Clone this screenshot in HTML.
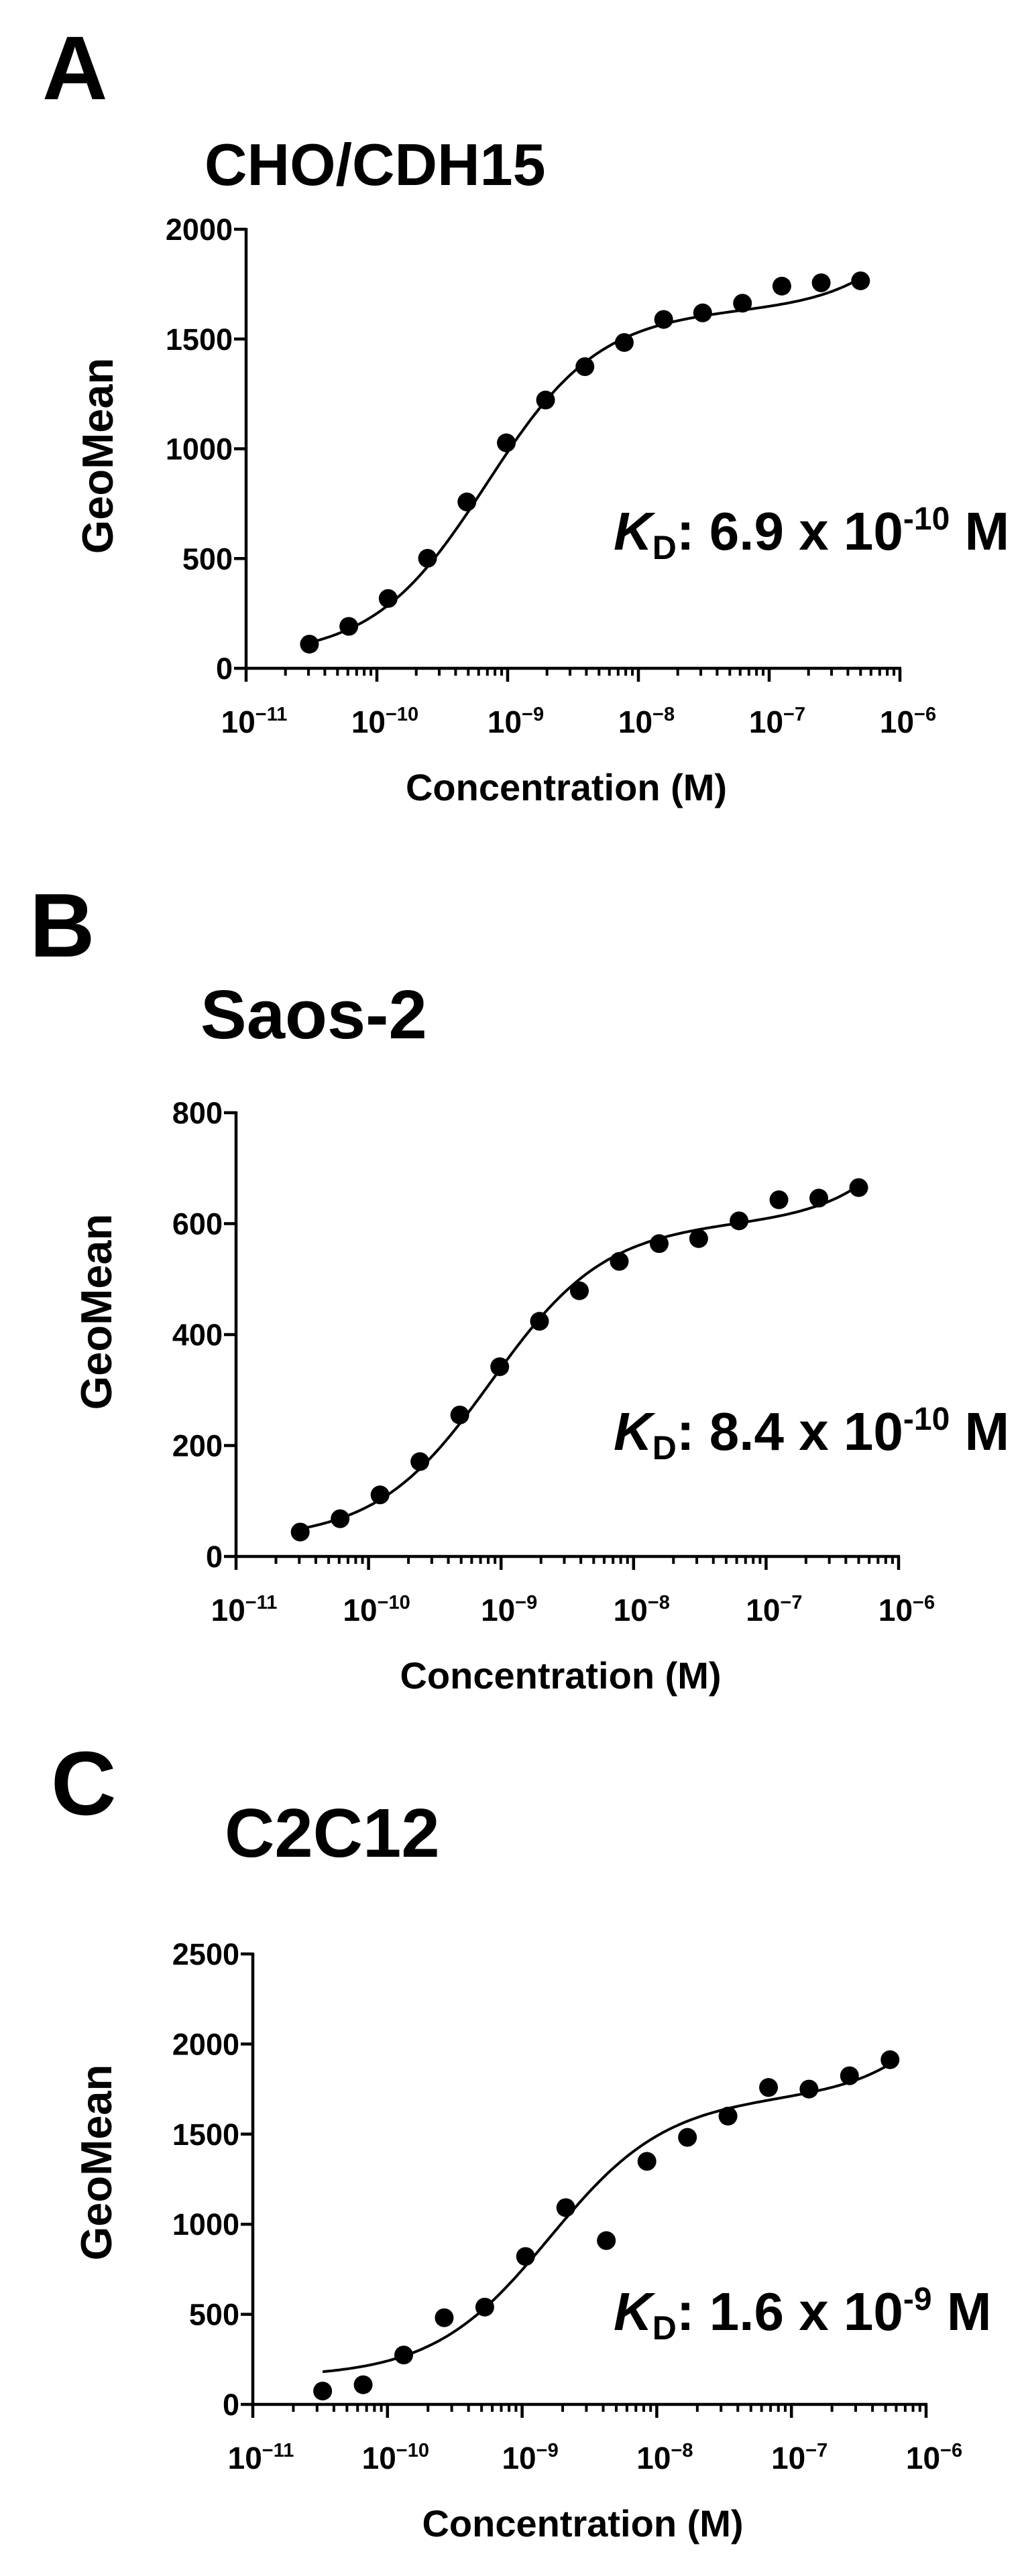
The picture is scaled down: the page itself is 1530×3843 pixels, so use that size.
<!DOCTYPE html>
<html><head><meta charset="utf-8">
<style>
html,body{margin:0;padding:0;background:#fff;}
svg{display:block;font-family:"Liberation Sans",Arial,sans-serif;font-weight:bold;}
</style></head>
<body>
<svg id="fig" width="1530" height="3843" viewBox="0 0 1530 3843" xmlns="http://www.w3.org/2000/svg"></svg>
<script>
// ---- Panel A data ----
const concA = [3.05e-11,6.1e-11,1.22e-10,2.44e-10,4.88e-10,9.77e-10,1.95e-9,3.9e-9,7.8e-9,1.56e-8,3.1e-8,6.25e-8,1.25e-7,2.5e-7,5e-7];
const valuesA = [110,191,318,501,758,1027,1222,1374,1484,1589,1619,1663,1741,1756,1765];
const yTicksA = [0,500,1000,1500,2000];
const fitA = [50,1580,6.9e-10,3.0e8];
// ---- Panel B data ----
const concB = [3.05e-11,6.1e-11,1.22e-10,2.44e-10,4.88e-10,9.77e-10,1.95e-9,3.9e-9,7.8e-9,1.56e-8,3.1e-8,6.25e-8,1.25e-7,2.5e-7,5e-7];
const valuesB = [44,68,111,171,255,342,424,479,532,564,573,605,643,646,665];
const yTicksB = [0,200,400,600,800];
const fitB = [30,570,8.4e-10,1.4e8];
// ---- Panel C data ----
const concC = [3.3e-11,6.6e-11,1.32e-10,2.64e-10,5.28e-10,1.06e-9,2.11e-9,4.22e-9,8.45e-9,1.69e-8,3.38e-8,6.76e-8,1.35e-7,2.7e-7,5.4e-7];
const valuesC = [74,109,274,481,540,821,1092,909,1349,1482,1600,1759,1750,1824,1913];
const yTicksC = [0,500,1000,1500,2000,2500];
const fitC = [150,1550,1.6e-9,3.6e8];
const xDecades = [-11,-10,-9,-8,-7,-6];

const NS = "http://www.w3.org/2000/svg";
const svg = document.getElementById('fig');
function mk(tag, attrs, parent){
  const e = document.createElementNS(NS, tag);
  for (const k in attrs) e.setAttribute(k, attrs[k]);
  (parent||svg).appendChild(e);
  return e;
}

function panel(cfg){
  const g = mk('g', {});
  
  
  const x0 = cfg.ax, x1 = cfg.ax1, y0 = cfg.ay0, y1 = cfg.ay1;
  const ymax = cfg.yt[cfg.yt.length-1];
  const X = c => x0 + (Math.log10(c) + 11) / 5 * (x1 - x0);
  const Y = v => y0 - v / ymax * (y0 - y1);

  const pl = mk('text', {x: cfg.lx, y: cfg.lby, 'font-size': 135}, g);
  pl.textContent = cfg.letter;
  
  

  const t = mk('text', {x: cfg.tx, y: cfg.tby, 'font-size': cfg.tfs}, g);
  t.textContent = cfg.title;
  
  

  const ya = mk('line', {x1: x0, y1: y1 - 2, x2: x0, y2: y0 + 2, stroke: '#000', 'stroke-width': 4.5}, g);
  
  
  const xa = mk('line', {x1: x0 - 2, y1: y0, x2: x1 + 2, y2: y0, stroke: '#000', 'stroke-width': 4.5}, g);
  
  

  cfg.yt.forEach(v => {
    const yy = Y(v);
    const tk = mk('line', {x1: x0 - 18, y1: yy, x2: x0, y2: yy, stroke: '#000', 'stroke-width': 4.5}, g);
    
    
    const lb = mk('text', {x: x0 - 20, y: yy + 16, 'font-size': 45, 'text-anchor': 'end'}, g);
    lb.textContent = v;
    
    
  });

  xDecades.forEach((d, i) => {
    const xx = X(Math.pow(10, d));
    const tk = mk('line', {x1: xx, y1: y0, x2: xx, y2: y0 + 20, stroke: '#000', 'stroke-width': 4.5}, g);
    
    
    const lb = mk('text', {x: xx + 12, y: y0 + 96, 'font-size': 46, 'text-anchor': 'middle'}, g);
    
    
    const b = mk('tspan', {}, lb); b.textContent = '10';
    const s = mk('tspan', {'font-size': 29, dy: -18}, lb); s.textContent = '\u2212' + (-d);
    if (i < xDecades.length - 1) {
      for (let m = 2; m <= 9; m++) {
        const mx = X(m * Math.pow(10, d));
        const mt = mk('line', {x1: mx, y1: y0, x2: mx, y2: y0 + 11, stroke: '#000', 'stroke-width': 4}, g);
        
        
      }
    }
  });

  const xt = mk('text', {x: (x0 + x1) / 2 - 10, y: y0 + 197, 'font-size': 56, 'text-anchor': 'middle'}, g);
  xt.textContent = 'Concentration (M)';
  
  
  const yt = mk('text', {x: 0, y: 0, 'font-size': 65, 'text-anchor': 'middle', transform: 'translate(' + (cfg.ytx) + ',' + cfg.ytc + ') rotate(-90)'}, g);
  yt.textContent = 'GeoMean';
  
  

  const f = cfg.fit;
  const c0 = cfg.conc[0], c1 = cfg.conc[cfg.conc.length - 1];
  let d = '';
  const N = 200;
  for (let i = 0; i <= N; i++) {
    const lc = Math.log10(c0) + (Math.log10(c1) - Math.log10(c0)) * i / N;
    const c = Math.pow(10, lc);
    const v = f[0] + f[1] * c / (f[2] + c) + f[3] * c;
    d += (i ? 'L' : 'M') + X(c).toFixed(1) + ',' + Y(v).toFixed(1);
  }
  const cv = mk('path', {d: d, fill: 'none', stroke: '#000', 'stroke-width': 4}, g);
  
  

  cfg.conc.forEach((c, i) => {
    const p = mk('circle', {cx: X(c), cy: Y(cfg.vals[i]), r: 14, fill: '#000'}, g);
    
    
  });

  const kd = mk('text', {x: 915, y: cfg.kdy, 'font-size': 80}, g);
  
  
  const k = mk('tspan', {'font-style': 'italic'}, kd); k.textContent = 'K';
  const ds = mk('tspan', {'font-size': 50, dy: 14}, kd); ds.textContent = 'D';
  const r1 = mk('tspan', {dy: -14}, kd); r1.textContent = ': ' + cfg.kdm + ' x 10';
  const sp = mk('tspan', {'font-size': 48, dy: -30}, kd); sp.textContent = cfg.kde;
  const r2 = mk('tspan', {dy: 30}, kd); r2.textContent = ' M';
}

panel({id:'a', letter:'A', title:'CHO/CDH15', tfs:88, lx:63, lby:148, tx:305, tby:276,
  ax:367, ax1:1342, ay0:997, ay1:342, yt:yTicksA, conc:concA, vals:valuesA, fit:fitA,
  ytx:168, ytc:680, kdy:820, kdm:'6.9', kde:'-10'});
panel({id:'b', letter:'B', title:'Saos-2', tfs:103, lx:44, lby:1427, tx:299, tby:1549,
  ax:352, ax1:1340, ay0:2322, ay1:1660, yt:yTicksB, conc:concB, vals:valuesB, fit:fitB,
  ytx:166, ytc:1957, kdy:2163, kdm:'8.4', kde:'-10'});
panel({id:'c', letter:'C', title:'C2C12', tfs:103, lx:76, lby:2707, tx:335, tby:2770,
  ax:377, ax1:1381, ay0:3587, ay1:2915, yt:yTicksC, conc:concC, vals:valuesC, fit:fitC,
  ytx:166, ytc:3226, kdy:3476, kdm:'1.6', kde:'-9'});
</script>
</body></html>
